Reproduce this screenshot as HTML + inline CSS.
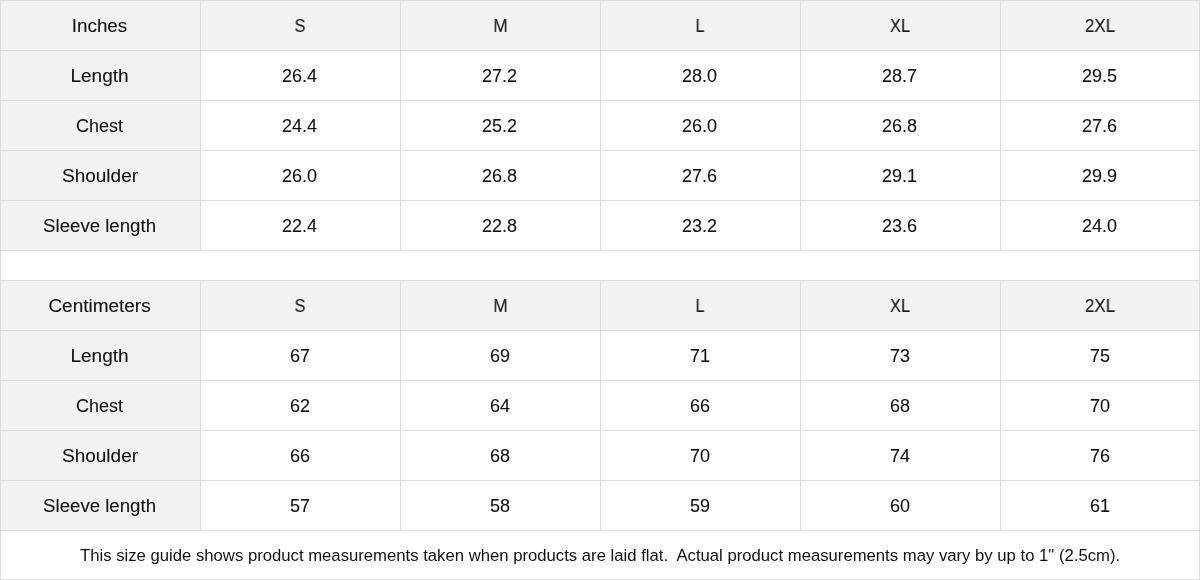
<!DOCTYPE html>
<html><head><meta charset="utf-8"><style>
html,body{margin:0;padding:0;background:#fff;width:1200px;height:580px;overflow:hidden;position:relative}
body{font-family:"Liberation Sans",sans-serif;color:#111111}
.c span{-webkit-text-stroke:0.1px #111111}
.c{position:absolute;display:flex;align-items:center;justify-content:center;font-size:18px;line-height:1}
.c span{will-change:transform;display:block;white-space:pre;position:relative;top:0.5px}
.f{font-size:16.7px}
.f span{top:1px;-webkit-text-stroke:0px}
.h{position:absolute;left:0;width:1200px;height:1px;background:#dddddd}
.v{position:absolute;width:1px;background:#dddddd}
</style></head><body>
<div class="c" style="left:0px;top:0px;width:200px;height:50px;background:#f2f2f2;"><span style="transform:scaleX(1.045)">Inches</span></div><div class="c" style="left:200px;top:0px;width:200px;height:50px;background:#f2f2f2;"><span style="transform:scaleX(0.89)">S</span></div><div class="c" style="left:400px;top:0px;width:200px;height:50px;background:#f2f2f2;"><span style="transform:scaleX(0.944)">M</span></div><div class="c" style="left:600px;top:0px;width:200px;height:50px;background:#f2f2f2;"><span style="transform:scaleX(0.884)">L</span></div><div class="c" style="left:800px;top:0px;width:200px;height:50px;background:#f2f2f2;"><span style="transform:scaleX(0.922)">XL</span></div><div class="c" style="left:1000px;top:0px;width:200px;height:50px;background:#f2f2f2;"><span style="transform:scaleX(0.946)">2XL</span></div><div class="c" style="left:0px;top:50px;width:200px;height:50px;background:#f2f2f2;"><span style="transform:scaleX(1.058)">Length</span></div><div class="c" style="left:200px;top:50px;width:200px;height:50px;"><span>26.4</span></div><div class="c" style="left:400px;top:50px;width:200px;height:50px;"><span>27.2</span></div><div class="c" style="left:600px;top:50px;width:200px;height:50px;"><span>28.0</span></div><div class="c" style="left:800px;top:50px;width:200px;height:50px;"><span>28.7</span></div><div class="c" style="left:1000px;top:50px;width:200px;height:50px;"><span>29.5</span></div><div class="c" style="left:0px;top:100px;width:200px;height:50px;background:#f2f2f2;"><span>Chest</span></div><div class="c" style="left:200px;top:100px;width:200px;height:50px;"><span>24.4</span></div><div class="c" style="left:400px;top:100px;width:200px;height:50px;"><span>25.2</span></div><div class="c" style="left:600px;top:100px;width:200px;height:50px;"><span>26.0</span></div><div class="c" style="left:800px;top:100px;width:200px;height:50px;"><span>26.8</span></div><div class="c" style="left:1000px;top:100px;width:200px;height:50px;"><span>27.6</span></div><div class="c" style="left:0px;top:150px;width:200px;height:50px;background:#f2f2f2;"><span style="transform:scaleX(1.056)">Shoulder</span></div><div class="c" style="left:200px;top:150px;width:200px;height:50px;"><span>26.0</span></div><div class="c" style="left:400px;top:150px;width:200px;height:50px;"><span>26.8</span></div><div class="c" style="left:600px;top:150px;width:200px;height:50px;"><span>27.6</span></div><div class="c" style="left:800px;top:150px;width:200px;height:50px;"><span>29.1</span></div><div class="c" style="left:1000px;top:150px;width:200px;height:50px;"><span>29.9</span></div><div class="c" style="left:0px;top:200px;width:200px;height:50px;background:#f2f2f2;"><span style="transform:scaleX(1.035)">Sleeve length</span></div><div class="c" style="left:200px;top:200px;width:200px;height:50px;"><span>22.4</span></div><div class="c" style="left:400px;top:200px;width:200px;height:50px;"><span>22.8</span></div><div class="c" style="left:600px;top:200px;width:200px;height:50px;"><span>23.2</span></div><div class="c" style="left:800px;top:200px;width:200px;height:50px;"><span>23.6</span></div><div class="c" style="left:1000px;top:200px;width:200px;height:50px;"><span>24.0</span></div><div class="c" style="left:0px;top:280px;width:200px;height:50px;background:#f2f2f2;"><span style="transform:scaleX(1.053)">Centimeters</span></div><div class="c" style="left:200px;top:280px;width:200px;height:50px;background:#f2f2f2;"><span style="transform:scaleX(0.89)">S</span></div><div class="c" style="left:400px;top:280px;width:200px;height:50px;background:#f2f2f2;"><span style="transform:scaleX(0.944)">M</span></div><div class="c" style="left:600px;top:280px;width:200px;height:50px;background:#f2f2f2;"><span style="transform:scaleX(0.884)">L</span></div><div class="c" style="left:800px;top:280px;width:200px;height:50px;background:#f2f2f2;"><span style="transform:scaleX(0.922)">XL</span></div><div class="c" style="left:1000px;top:280px;width:200px;height:50px;background:#f2f2f2;"><span style="transform:scaleX(0.946)">2XL</span></div><div class="c" style="left:0px;top:330px;width:200px;height:50px;background:#f2f2f2;"><span style="transform:scaleX(1.058)">Length</span></div><div class="c" style="left:200px;top:330px;width:200px;height:50px;"><span>67</span></div><div class="c" style="left:400px;top:330px;width:200px;height:50px;"><span>69</span></div><div class="c" style="left:600px;top:330px;width:200px;height:50px;"><span>71</span></div><div class="c" style="left:800px;top:330px;width:200px;height:50px;"><span>73</span></div><div class="c" style="left:1000px;top:330px;width:200px;height:50px;"><span>75</span></div><div class="c" style="left:0px;top:380px;width:200px;height:50px;background:#f2f2f2;"><span>Chest</span></div><div class="c" style="left:200px;top:380px;width:200px;height:50px;"><span>62</span></div><div class="c" style="left:400px;top:380px;width:200px;height:50px;"><span>64</span></div><div class="c" style="left:600px;top:380px;width:200px;height:50px;"><span>66</span></div><div class="c" style="left:800px;top:380px;width:200px;height:50px;"><span>68</span></div><div class="c" style="left:1000px;top:380px;width:200px;height:50px;"><span>70</span></div><div class="c" style="left:0px;top:430px;width:200px;height:50px;background:#f2f2f2;"><span style="transform:scaleX(1.056)">Shoulder</span></div><div class="c" style="left:200px;top:430px;width:200px;height:50px;"><span>66</span></div><div class="c" style="left:400px;top:430px;width:200px;height:50px;"><span>68</span></div><div class="c" style="left:600px;top:430px;width:200px;height:50px;"><span>70</span></div><div class="c" style="left:800px;top:430px;width:200px;height:50px;"><span>74</span></div><div class="c" style="left:1000px;top:430px;width:200px;height:50px;"><span>76</span></div><div class="c" style="left:0px;top:480px;width:200px;height:50px;background:#f2f2f2;"><span style="transform:scaleX(1.035)">Sleeve length</span></div><div class="c" style="left:200px;top:480px;width:200px;height:50px;"><span>57</span></div><div class="c" style="left:400px;top:480px;width:200px;height:50px;"><span>58</span></div><div class="c" style="left:600px;top:480px;width:200px;height:50px;"><span>59</span></div><div class="c" style="left:800px;top:480px;width:200px;height:50px;"><span>60</span></div><div class="c" style="left:1000px;top:480px;width:200px;height:50px;"><span>61</span></div>
<div class="c f" style="left:0;top:530px;width:1200px;height:50px"><span>This size guide shows product measurements taken when products are laid flat.&nbsp; Actual product measurements may vary by up to 1" (2.5cm).</span></div>
<div class="h" style="top:0px"></div><div class="h" style="top:50px"></div><div class="h" style="top:100px"></div><div class="h" style="top:150px"></div><div class="h" style="top:200px"></div><div class="h" style="top:250px"></div><div class="h" style="top:280px"></div><div class="h" style="top:330px"></div><div class="h" style="top:380px"></div><div class="h" style="top:430px"></div><div class="h" style="top:480px"></div><div class="h" style="top:530px"></div><div class="h" style="top:579px"></div><div class="v" style="left:0px;top:0;height:580px"></div><div class="v" style="left:1199px;top:0;height:580px"></div><div class="v" style="left:200px;top:0;height:250px"></div><div class="v" style="left:200px;top:280px;height:250px"></div><div class="v" style="left:400px;top:0;height:250px"></div><div class="v" style="left:400px;top:280px;height:250px"></div><div class="v" style="left:600px;top:0;height:250px"></div><div class="v" style="left:600px;top:280px;height:250px"></div><div class="v" style="left:800px;top:0;height:250px"></div><div class="v" style="left:800px;top:280px;height:250px"></div><div class="v" style="left:1000px;top:0;height:250px"></div><div class="v" style="left:1000px;top:280px;height:250px"></div>
</body></html>
